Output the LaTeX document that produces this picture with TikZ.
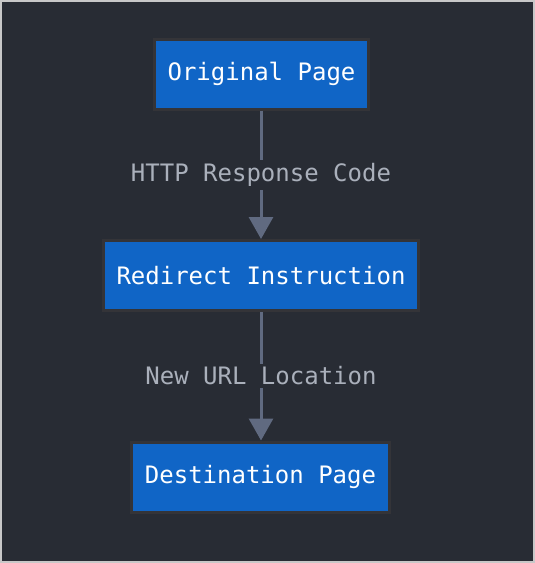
\documentclass[tikz,border=0pt]{standalone}
\usepackage{fontspec}
\setmonofont{DejaVu Sans Mono}
\usetikzlibrary{arrows.meta}
\definecolor{bgc}{RGB}{40,44,52}
\definecolor{framec}{RGB}{200,200,200}
\definecolor{boxc}{RGB}{16,101,198}
\definecolor{boxline}{RGB}{52,52,56}
\definecolor{edgec}{RGB}{96,106,128}
\definecolor{labc}{RGB}{170,176,187}
\tikzset{
  box/.style={draw=boxline, line width=3pt, fill=boxc, text=white,
    font=\ttfamily\fontsize{24}{28}\selectfont, minimum height=70pt, inner xsep=13.5pt},
  elabel/.style={fill=bgc, text=labc, font=\ttfamily\fontsize{24}{28}\selectfont, inner sep=3pt},
  flow/.style={draw=edgec, line width=3pt, -{Triangle[length=22pt,width=24pt]}}
}
\begin{document}
\begin{tikzpicture}[x=1pt,y=-1pt]
\useasboundingbox (0,0) rectangle (535,563);
\fill[framec] (0,0) rectangle (535,563);
\fill[bgc] (2,2) rectangle (533,561);
\node[box] (orig) at (261.5,74) {Original Page};
\node[box] (redir) at (261,275.5) {Redirect Instruction};
\node[box] (dest) at (260.5,477) {Destination Page};
\draw[flow] (orig.south -| 261,0) -- (redir.north -| 261,0);
\draw[flow] (redir.south -| 261,0) -- (dest.north -| 261,0);
\node[elabel] (l1) at (261,175) {HTTP Response Code};
\node[elabel] (l2) at (261,376) {New URL Location};
\end{tikzpicture}
\end{document}
